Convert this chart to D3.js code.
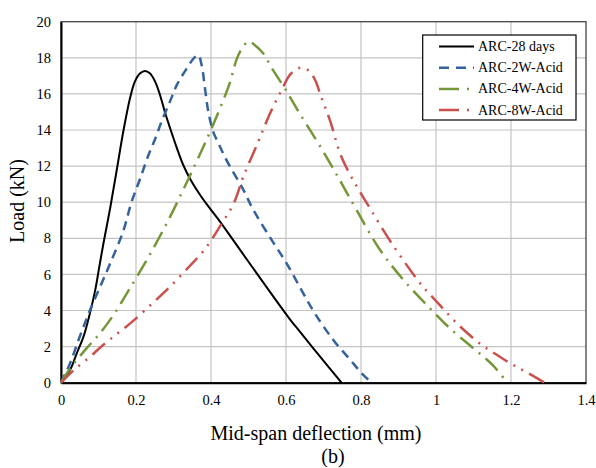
<!DOCTYPE html>
<html>
<head>
<meta charset="utf-8">
<script src="https://cdn.jsdelivr.net/npm/d3@7"></script>
<style>
  body { margin: 0; background: #fff; }
  svg text { font-family: "Liberation Serif", "Times New Roman", serif; fill: #000; }
</style>
</head>
<body>
<svg id="chart" width="596" height="468"></svg>
<script>
// deflection (mm), load (kN)
var arc28 = [[0,0],[0.024,0.7],[0.042,1.63],[0.06,2.55],[0.077,3.84],[0.091,5.1],[0.102,6.4],[0.113,7.7],
  [0.131,9.66],[0.148,11.7],[0.166,13.9],[0.184,15.76],[0.197,16.68],[0.211,17.14],[0.224,17.27],
  [0.237,17.14],[0.251,16.68],[0.264,15.94],[0.277,15.0],[0.291,14.1],[0.309,13.0],[0.326,12.06],
  [0.344,11.3],[0.371,10.4],[0.397,9.66],[0.424,8.92],[0.5,6.7],[0.611,3.5],[0.637,2.83],
  [0.691,1.44],[0.748,0]];

var arc2w = [[0,0],[0.024,1.07],[0.05,2.55],[0.077,4.0],[0.104,5.3],[0.131,6.6],[0.166,8.4],
  [0.188,10.0],[0.211,11.3],[0.233,12.6],[0.251,13.5],[0.268,14.46],[0.291,15.6],[0.309,16.5],
  [0.335,17.4],[0.355,18.0],[0.366,18.15],[0.375,17.6],[0.384,16.3],[0.393,15.0],[0.406,13.9],
  [0.42,13.26],[0.442,12.3],[0.486,10.7],[0.513,9.57],[0.562,7.9],[0.602,6.6],[0.642,5.1],
  [0.677,3.84],[0.726,2.37],[0.77,1.3],[0.802,0.52],[0.828,0]];

var arc4w = [[0,0],[0.028,0.89],[0.068,1.9],[0.104,2.74],[0.14,3.75],[0.18,5.1],[0.237,7.1],
  [0.291,9.2],[0.34,11.3],[0.388,13.45],[0.424,15.2],[0.45,16.6],[0.468,17.9],[0.482,18.5],
  [0.5,18.9],[0.517,18.7],[0.539,18.25],[0.566,17.3],[0.597,16.3],[0.637,14.9],[0.691,13.1],
  [0.744,11.2],[0.788,9.57],[0.851,7.35],[0.913,5.7],[0.984,4.12],[1.042,2.92],[1.1,1.9],
  [1.15,1.0],[1.19,0]];

var arc8w = [[0,0],[0.037,0.75],[0.08,1.48],[0.104,1.94],[0.14,2.55],[0.187,3.33],[0.246,4.44],
  [0.289,5.28],[0.344,6.48],[0.384,7.4],[0.428,8.8],[0.46,9.9],[0.486,11.4],[0.526,13.35],
  [0.557,14.9],[0.588,16.2],[0.612,17.1],[0.638,17.45],[0.66,17.3],[0.677,16.8],[0.695,15.76],
  [0.717,14.55],[0.748,12.5],[0.788,10.9],[0.824,9.66],[0.882,7.72],[0.962,5.4],[1.006,4.4],
  [1.06,3.2],[1.122,2.09],[1.162,1.55],[1.2,1.05],[1.24,0.6],[1.29,0]];

var seriesNames = ["ARC-28 days", "ARC-2W-Acid", "ARC-4W-Acid", "ARC-8W-Acid"];
var xTicks = [0, 0.2, 0.4, 0.6, 0.8, 1, 1.2, 1.4];
var yTicks = [0, 2, 4, 6, 8, 10, 12, 14, 16, 18, 20];

var styles = [
  { color: "#000000", dash: null, width: 2 },
  { color: "#34629b", dash: "9,6", width: 2.5 },
  { color: "#76963a", dash: "17,7,2,7", width: 2.5 },
  { color: "#c8504d", dash: "17,7,2,7,2,7", width: 2.5 }
];
var allData = [arc28, arc2w, arc4w, arc8w];

var svg = d3.select("#chart");
var plotLeft = 61, plotRight = 586, plotTop = 21.7, plotBottom = 382.7;

var x = d3.scaleLinear().domain([0, 1.4]).range([plotLeft, plotRight]);
var y = d3.scaleLinear().domain([0, 20]).range([plotBottom, plotTop]);

// grid
svg.append("g").selectAll("line").data(xTicks.slice(1, -1)).enter().append("line")
  .attr("x1", d => x(d)).attr("x2", d => x(d)).attr("y1", plotTop).attr("y2", plotBottom)
  .attr("stroke", "#c4c4c4").attr("stroke-width", 1.2);
svg.append("g").selectAll("line").data(yTicks.slice(1, -1)).enter().append("line")
  .attr("x1", plotLeft).attr("x2", plotRight).attr("y1", d => y(d)).attr("y2", d => y(d))
  .attr("stroke", "#c4c4c4").attr("stroke-width", 1.2);

// plot border (top/right)
svg.append("rect").attr("x", plotLeft).attr("y", plotTop)
  .attr("width", plotRight - plotLeft).attr("height", plotBottom - plotTop)
  .attr("fill", "none").attr("stroke", "#444").attr("stroke-width", 1.3);

// axes
var xAxis = d3.axisBottom(x).tickValues(xTicks).tickSize(0).tickPadding(12).tickFormat(d3.format("~g"));
var yAxis = d3.axisLeft(y).tickValues(yTicks).tickSize(0).tickPadding(10);
var gx = svg.append("g").attr("transform", "translate(0," + plotBottom + ")").call(xAxis);
var gy = svg.append("g").attr("transform", "translate(" + plotLeft + ",0)").call(yAxis);
[gx, gy].forEach(function(g) {
  g.select(".domain").attr("stroke", "#000").attr("stroke-width", 2);
  g.selectAll("text").style("font-family", "Liberation Serif").style("font-size", "14.5px").attr("fill", "#000");
});

// curves
var line = d3.line().x(d => x(d[0])).y(d => y(d[1])).curve(d3.curveCatmullRom.alpha(0.5));
allData.forEach(function(data, i) {
  svg.append("path").datum(data)
    .attr("d", line)
    .attr("fill", "none")
    .attr("stroke", styles[i].color)
    .attr("stroke-width", styles[i].width)
    .attr("stroke-dasharray", styles[i].dash)
    .attr("stroke-linejoin", "round");
});

// axis titles
svg.append("text").attr("x", 316).attr("y", 440).attr("text-anchor", "middle")
  .style("font-size", "20px").text("Mid-span deflection (mm)");
svg.append("text").attr("x", 333).attr("y", 463).attr("text-anchor", "middle")
  .style("font-size", "20px").text("(b)");
svg.append("text").attr("transform", "translate(24,201) rotate(-90)").attr("text-anchor", "middle")
  .style("font-size", "20px").text("Load (kN)");

// legend
var lg = svg.append("g");
lg.append("rect").attr("x", 422.7).attr("y", 35).attr("width", 153.3).attr("height", 85)
  .attr("fill", "#fff").attr("stroke", "#000").attr("stroke-width", 1.2);
seriesNames.forEach(function(name, i) {
  var cy = 46.5 + i * 21.2;
  lg.append("line").attr("x1", 439).attr("x2", 474).attr("y1", cy).attr("y2", cy)
    .attr("stroke", styles[i].color).attr("stroke-width", styles[i].width)
    .attr("stroke-dasharray", i === 1 ? "10,7" : (i > 1 ? "20,8,2,8" : null));
  lg.append("text").attr("x", 478).attr("y", cy + 4.5).style("font-size", "14px").text(name);
});
</script>
</body>
</html>
